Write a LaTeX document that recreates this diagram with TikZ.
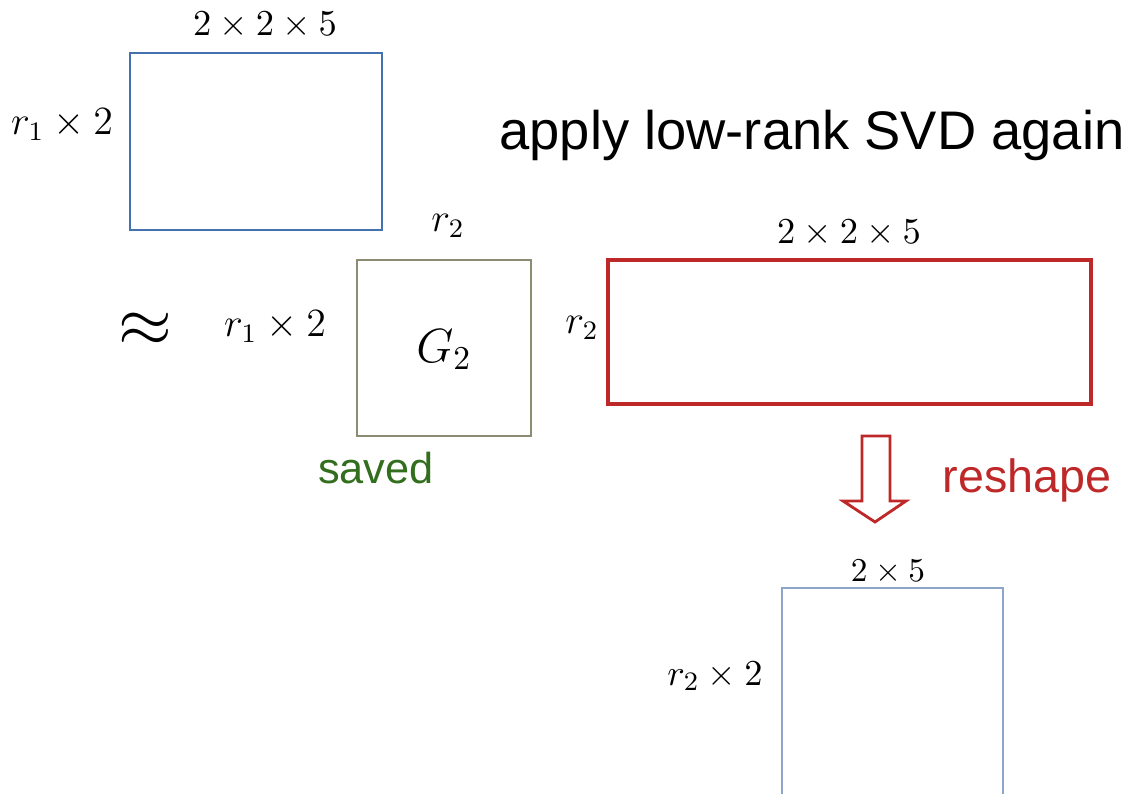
\documentclass[tikz,border=0pt]{standalone}
\usepackage{fontspec}
\setsansfont{Liberation Sans}
\usepackage{tikz}

\definecolor{matblue}{RGB}{68,114,176}
\definecolor{paleblue}{RGB}{140,165,200}
\definecolor{olivegray}{RGB}{140,140,115}
\definecolor{svdred}{RGB}{190,40,40}
\definecolor{savegreen}{RGB}{50,110,30}

\tikzset{
  mat/.style={draw,inner sep=0pt,outer sep=0pt},
  dimlbl/.style={inner sep=1pt,font=\fontsize{11}{13}\selectfont},
  ranklbl/.style={inner sep=1pt,font=\fontsize{12}{14}\selectfont},
  remark/.style={inner sep=1pt,font=\sffamily\fontsize{13}{15}\selectfont}
}

\begin{document}
\begin{tikzpicture}[x=0.3pt,y=-0.3pt]
\useasboundingbox (0,0) rectangle (1128,794);
% matrix before the split
\node[mat,draw=matblue,line width=0.6pt,minimum width=75.6pt,minimum height=53.1pt] (unfold) at (256,141.5) {};
\node[dimlbl] (unfoldtop) at (265,25) {$2\times2\times5$};
\node[ranklbl] (unfoldleft) at (62,125) {$r_1\times2$};
\node[inner sep=1pt,font=\sffamily\fontsize{16.3}{19}\selectfont] (title) at (812,135) {apply low-rank SVD again};
% the two factors
\node[inner sep=0pt,font=\fontsize{21.5}{24}\selectfont] (approx) at (145,330) {$\approx$};
\node[mat,draw=olivegray,line width=0.35pt,minimum width=52.2pt,minimum height=52.8pt] (core) at (444,348) {};
\node[inner sep=0pt,font=\fontsize{13.6}{16}\selectfont] (corename) at (444,350) {$G_2$};
\node[ranklbl] (coretop) at (448,226) {$r_2$};
\node[ranklbl] (coreleft) at (275,327) {$r_1\times2$};
\node[remark,text=savegreen] (saved) at (376,468) {saved};
\node[mat,draw=svdred,line width=1.2pt,minimum width=144.9pt,minimum height=43.2pt] (rest) at (849.5,332) {};
\node[dimlbl] (resttop) at (849,233) {$2\times2\times5$};
\node[ranklbl] (restleft) at (582,328) {$r_2$};
% reshape step
\draw[svdred,line width=0.85pt,line join=miter] (862,436) -- (890,436) -- (890,501) -- (906,501)
  -- (875,522) -- (843,501) -- (862,501) -- cycle;
\node[remark,text=svdred,font=\sffamily\fontsize{14}{16}\selectfont] (reshape) at (1027,480) {reshape};
\node[mat,draw=paleblue,line width=0.35pt,minimum width=66.3pt,minimum height=72.6pt] (next) at (892.5,709) {};
\node[dimlbl,font=\fontsize{10}{12}\selectfont] (nexttop) at (888,572) {$2\times5$};
\node[dimlbl] (nextleft) at (715,676) {$r_2\times2$};
\end{tikzpicture}
\end{document}
